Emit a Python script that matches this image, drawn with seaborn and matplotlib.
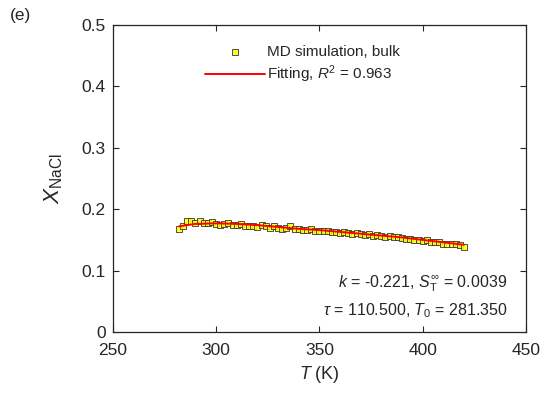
import numpy as np
import pandas as pd
import matplotlib
matplotlib.use("Agg")
import matplotlib.pyplot as plt
import seaborn as sns

# MD simulation data (bulk)
temps = [282, 284, 286, 288, 290, 292, 294, 296, 298, 300,
         302, 304, 306, 308, 310, 312, 314, 316, 318, 320,
         322, 324, 326, 328, 330, 332, 334, 336, 338, 340,
         342, 344, 346, 348, 350, 352, 354, 356, 358, 360,
         362, 364, 366, 368, 370, 372, 374, 376, 378, 380,
         382, 384, 386, 388, 390, 392, 394, 396, 398, 400,
         402, 404, 406, 408, 410, 412, 414, 416, 418, 420]
x_nacl = [0.168, 0.172, 0.181, 0.180, 0.178, 0.180, 0.177, 0.178, 0.179, 0.176,
          0.175, 0.176, 0.177, 0.175, 0.174, 0.176, 0.173, 0.172, 0.172, 0.171,
          0.174, 0.172, 0.170, 0.172, 0.169, 0.168, 0.170, 0.172, 0.167, 0.168,
          0.166, 0.166, 0.167, 0.165, 0.165, 0.164, 0.165, 0.163, 0.163, 0.162,
          0.163, 0.161, 0.160, 0.161, 0.159, 0.158, 0.159, 0.157, 0.158, 0.156,
          0.155, 0.156, 0.154, 0.154, 0.153, 0.151, 0.152, 0.150, 0.150, 0.148,
          0.149, 0.147, 0.146, 0.146, 0.144, 0.144, 0.143, 0.143, 0.142, 0.139]

# fitted curve
fit_t = [282, 290, 300, 310, 320, 330, 340, 350, 360, 370, 380, 390, 400, 410, 420]
fit_x = [0.172, 0.176, 0.177, 0.176, 0.174, 0.171, 0.168, 0.166, 0.163, 0.160,
         0.157, 0.154, 0.150, 0.146, 0.142]

sns.set_style("ticks")
plt.rcParams["font.family"] = ["Liberation Sans", "DejaVu Sans"]
plt.rcParams["mathtext.fontset"] = "custom"
plt.rcParams["mathtext.rm"] = "Liberation Sans"
plt.rcParams["mathtext.it"] = "Liberation Sans:italic"

fig = plt.figure(figsize=(5.45, 3.98), dpi=100)
ax = fig.add_axes([0.207, 0.166, 0.758, 0.771])

df = pd.DataFrame({"T": temps, "X": x_nacl})
fit = pd.DataFrame({"T": fit_t, "X": fit_x})

sns.scatterplot(data=df, x="T", y="X", marker="s", s=24, color="#ffff00",
                edgecolor="#333333", linewidth=0.7, alpha=0.85, ax=ax,
                label="MD simulation, bulk", zorder=2)
sns.lineplot(data=fit, x="T", y="X", color="red", linewidth=1.4, ax=ax,
             label=r"Fitting, $R^2$ = 0.963", zorder=3)

ax.set_xlim(250, 450)
ax.set_ylim(0, 0.5)
ax.set_xticks([250, 300, 350, 400, 450])
ax.set_yticks([0, 0.1, 0.2, 0.3, 0.4, 0.5])
ax.set_yticklabels(["0", "0.1", "0.2", "0.3", "0.4", "0.5"])
ax.tick_params(direction="in", top=True, right=True, labelsize=12.5,
               length=4, width=0.8, colors="#262626", pad=5)
ax.tick_params(axis="x", pad=8)
for sp in ax.spines.values():
    sp.set_color("#262626")
    sp.set_linewidth(0.9)

ax.set_xlabel(r"$T$ (K)", fontsize=13, labelpad=4)
ax.set_ylabel(r"$X_{\mathrm{NaCl}}$", fontsize=16, labelpad=12)

leg = ax.legend(loc="upper left", bbox_to_anchor=(0.19, 0.98), frameon=False,
                fontsize=11, handlelength=3.9, handletextpad=0.15,
                labelspacing=0.3)

ax.text(0.955, 0.145, r"$k$ = -0.221, $S_{\mathrm{T}}^{\infty}$ = 0.0039",
        transform=ax.transAxes, ha="right", va="baseline", fontsize=11.5)
ax.text(0.955, 0.055, r"$\tau$ = 110.500, $T_0$ = 281.350",
        transform=ax.transAxes, ha="right", va="baseline", fontsize=11.5)

fig.text(0.018, 0.962, "(e)", fontsize=12.5, ha="left", va="center")

fig.savefig("out.png", dpi=100)
